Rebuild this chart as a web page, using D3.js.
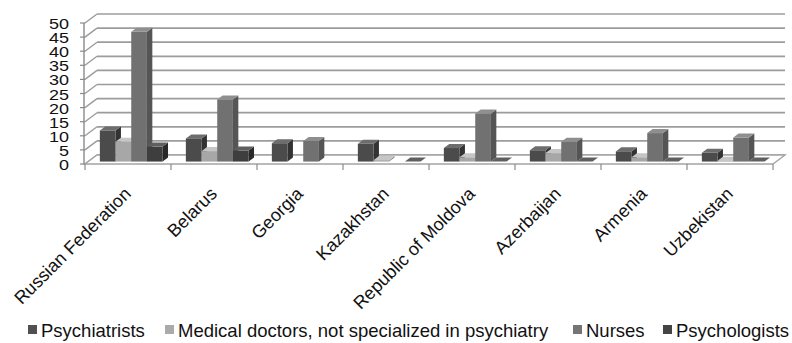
<!DOCTYPE html>
<html lang="en">
<head>
<meta charset="utf-8">
<script src="https://d3js.org/d3.v7.min.js"></script>
<style>
  body { margin: 0; background: #fff; }
  text { font-family: Arial, "Liberation Sans", sans-serif; fill: #111; }
</style>
<title>Mental health workforce</title>
</head>
<body>
<script>
// countries on the x axis
var countries = ["Russian Federation", "Belarus", "Georgia", "Kazakhstan",
  "Republic of Moldova", "Azerbaijan", "Armenia", "Uzbekistan"];

var seriesNames = ["Psychiatrists", "Medical doctors, not specialized in psychiatry", "Nurses", "Psychologists"];

// values (null = no bar drawn)
var psychiatrists = [11, 8.2, 6.5, 6.3, 4.8, 4, 3.6, 3.1];
var medicalDoctors = [7, 3.7, null, 0.5, 1.5, 3, 1.5, 0.3];
var nurses = [46, 22, 7.3, null, 17, 7, 10.1, 8.5];
var psychologists = [5.3, 3.9, null, 0, 0, 0, 0, 0];

var yTicks = [0, 5, 10, 15, 20, 25, 30, 35, 40, 45, 50];

var allSeries = [psychiatrists, medicalDoctors, nurses, psychologists];

// grey shades: front, top, side
var shades = [
  ["#4b4b4b", "#6d6d6d", "#333333"],
  ["#a7a7a7", "#c6c6c6", "#8c8c8c"],
  ["#717171", "#8f8f8f", "#555555"],
  ["#3e3e3e", "#5f5f5f", "#292929"]
];
var legendColors = ["#505050", "#aaaaaa", "#757575", "#444444"];

var width = 792, height = 343;
var depthX = 12, depthY = -9;   // full depth of the floor
var z0 = 0.27, z1 = 0.72;       // depth slot of the columns

var svg = d3.select("body").append("svg")
  .attr("width", width)
  .attr("height", height);

var x0 = d3.scaleBand().domain(countries).range([85, 773]).padding(0);
var x1 = d3.scaleBand().domain(d3.range(4)).range([0, x0.bandwidth()])
  .paddingInner(0).paddingOuter(0.74);
var y = d3.scaleLinear().domain([0, 50]).range([164, 23]);

function pt(px, py, z) {
  return [px + z * depthX, py + z * depthY];
}

// back wall gridlines
var walls = svg.append("g");
walls.selectAll(".grid")
  .data(yTicks)
  .enter().append("line")
  .attr("x1", 85 + depthX).attr("x2", 773 + depthX)
  .attr("y1", function(d) { return y(d) + depthY; })
  .attr("y2", function(d) { return y(d) + depthY; })
  .style("stroke", "#9c9c9c").style("stroke-width", 1.7);

// side wall diagonals
walls.selectAll(".diag")
  .data(yTicks)
  .enter().append("line")
  .attr("x1", 85).attr("x2", 85 + depthX)
  .attr("y1", function(d) { return y(d); })
  .attr("y2", function(d) { return y(d) + depthY; })
  .style("stroke", "#9c9c9c").style("stroke-width", 1.4);

// floor
var floorPts = [pt(85, y(0), 0), pt(773, y(0), 0), pt(773, y(0), 1), pt(85, y(0), 1)];
svg.append("polygon")
  .attr("points", floorPts.map(function(p) { return p.join(","); }).join(" "))
  .style("fill", "#fff").style("stroke", "#a4a4a4").style("stroke-width", 1.4);

// value axis
svg.append("line")
  .attr("x1", 84).attr("x2", 84).attr("y1", y(50)).attr("y2", y(0))
  .style("stroke", "#8a8a8a").style("stroke-width", 1.4);
svg.selectAll(".ytick")
  .data(yTicks)
  .enter().append("line")
  .attr("x1", 80).attr("x2", 85)
  .attr("y1", function(d) { return y(d); })
  .attr("y2", function(d) { return y(d); })
  .style("stroke", "#8a8a8a").style("stroke-width", 1.2);

// tick labels are squeezed vertically, as in the original image
svg.selectAll(".ylabel")
  .data(yTicks)
  .enter().append("text")
  .attr("transform", function(d) { return "translate(69," + (y(d) + 1) + ") scale(1,0.78)"; })
  .attr("dy", "0.36em")
  .attr("text-anchor", "end")
  .style("font-size", "18px")
  .text(function(d) { return d; });

// category ticks
var bounds = countries.map(function(c) { return x0(c); }).concat([x0.range()[1]]);
svg.selectAll(".xtick")
  .data(bounds)
  .enter().append("line")
  .attr("x1", function(d) { return d; }).attr("x2", function(d) { return d; })
  .attr("y1", y(0)).attr("y2", y(0) + 6)
  .style("stroke", "#8a8a8a").style("stroke-width", 1.2);

// columns
var bars = svg.append("g");
countries.forEach(function(c, i) {
  allSeries.forEach(function(s, k) {
    var v = s[i];
    if (v === null) return;
    var xl = x0(c) + x1(k), xr = xl + x1.bandwidth();
    var yt = y(v), yb = y(0);
    var fl = pt(xl, yt, z0), fr = pt(xr, yt, z0);
    var bl = pt(xl, yt, z1), br = pt(xr, yt, z1);
    var frb = pt(xr, yb, z0), brb = pt(xr, yb, z1), flb = pt(xl, yb, z0);
    var g = bars.append("g");
    g.append("polygon")
      .attr("points", [fr, br, brb, frb].map(function(p) { return p.join(","); }).join(" "))
      .style("fill", shades[k][2]);
    g.append("polygon")
      .attr("points", [fl, fr, br, bl].map(function(p) { return p.join(","); }).join(" "))
      .style("fill", shades[k][1]);
    g.append("rect")
      .attr("x", fl[0]).attr("y", fl[1])
      .attr("width", xr - xl).attr("height", Math.max(0, flb[1] - fl[1]))
      .style("fill", shades[k][0]);
  });
});

// rotated country labels
svg.selectAll(".xlabel")
  .data(countries)
  .enter().append("text")
  .attr("transform", function(d) {
    return "translate(" + (x0(d) + x0.bandwidth() / 2 + 4) + ",195) rotate(-45)";
  })
  .attr("text-anchor", "end")
  .style("font-size", "18px")
  .text(function(d) { return d; });

// legend
var legendX = [28, 165, 573, 663];
var legend = svg.selectAll(".legend")
  .data(seriesNames)
  .enter().append("g")
  .attr("transform", function(d, i) { return "translate(" + legendX[i] + ",325)"; });
legend.append("rect")
  .attr("width", 9).attr("height", 9)
  .style("fill", function(d, i) { return legendColors[i]; });
legend.append("text")
  .attr("x", 13).attr("y", 12)
  .style("font-size", "18.5px")
  .text(function(d) { return d; });
</script>
</body>
</html>
